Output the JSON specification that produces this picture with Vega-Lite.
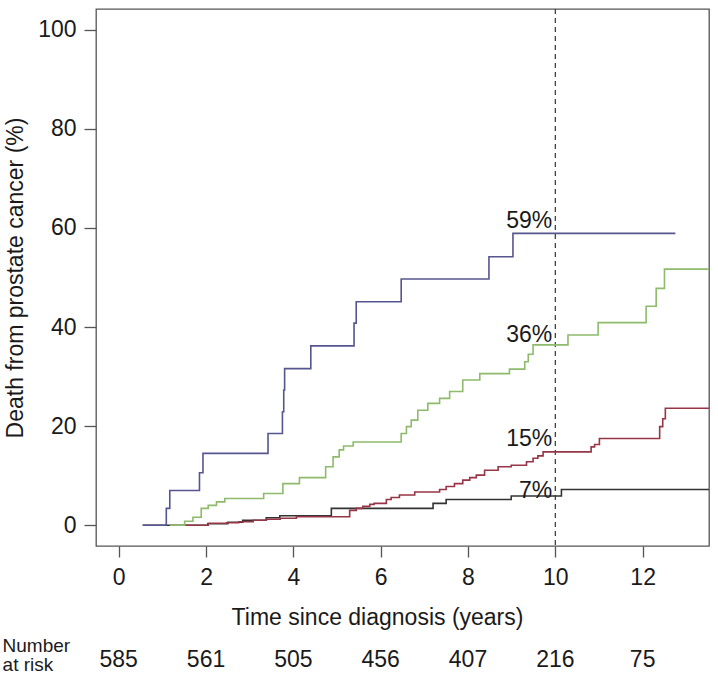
{
  "$schema": "https://vega.github.io/schema/vega-lite/v6.json",
  "width": 613,
  "height": 537,
  "autosize": {"type": "none"},
  "padding": {"left": 96, "top": 9, "right": 9, "bottom": 128},
  "background": "white",
  "config": {
    "font": "Liberation Sans",
    "view": {"stroke": "#555", "strokeWidth": 1.3},
    "axis": {"grid": false, "domain": false, "tickColor": "#555", "tickWidth": 1.3, "labelColor": "#1a1a1a", "titleColor": "#1a1a1a", "labelFontSize": 23, "titleFontSize": 23, "titleFontWeight": "normal", "labelFont": "Liberation Sans", "titleFont": "Liberation Sans"}
  },
  "datasets": {
    "curves": [
      {"g": "Group 1", "t": 0.55, "p": 0},
      {"g": "Group 1", "t": 2.04, "p": 0.3},
      {"g": "Group 1", "t": 2.5, "p": 0.6},
      {"g": "Group 1", "t": 2.84, "p": 1.0},
      {"g": "Group 1", "t": 3.38, "p": 1.5},
      {"g": "Group 1", "t": 3.69, "p": 1.9},
      {"g": "Group 1", "t": 4.87, "p": 3.4},
      {"g": "Group 1", "t": 7.2, "p": 4.4},
      {"g": "Group 1", "t": 7.5, "p": 5.2},
      {"g": "Group 1", "t": 8.99, "p": 5.9},
      {"g": "Group 1", "t": 10.14, "p": 7.2},
      {"g": "Group 1", "t": 13.6, "p": 7.2},

      {"g": "Group 2", "t": 1.51, "p": 0},
      {"g": "Group 2", "t": 2.05, "p": 0.4},
      {"g": "Group 2", "t": 2.47, "p": 0.5},
      {"g": "Group 2", "t": 2.75, "p": 0.7},
      {"g": "Group 2", "t": 3.08, "p": 1.0},
      {"g": "Group 2", "t": 3.38, "p": 1.2},
      {"g": "Group 2", "t": 3.7, "p": 1.4},
      {"g": "Group 2", "t": 4.07, "p": 1.7},
      {"g": "Group 2", "t": 5.29, "p": 3.0},
      {"g": "Group 2", "t": 5.44, "p": 3.4},
      {"g": "Group 2", "t": 5.59, "p": 3.8},
      {"g": "Group 2", "t": 5.75, "p": 4.2},
      {"g": "Group 2", "t": 5.85, "p": 4.4},
      {"g": "Group 2", "t": 6.13, "p": 5.2},
      {"g": "Group 2", "t": 6.24, "p": 5.6},
      {"g": "Group 2", "t": 6.43, "p": 6.1},
      {"g": "Group 2", "t": 6.78, "p": 6.7},
      {"g": "Group 2", "t": 7.35, "p": 7.2},
      {"g": "Group 2", "t": 7.5, "p": 7.8},
      {"g": "Group 2", "t": 7.69, "p": 8.4},
      {"g": "Group 2", "t": 7.88, "p": 9.1},
      {"g": "Group 2", "t": 8.04, "p": 9.6},
      {"g": "Group 2", "t": 8.19, "p": 10.1},
      {"g": "Group 2", "t": 8.38, "p": 11.1},
      {"g": "Group 2", "t": 8.69, "p": 11.8},
      {"g": "Group 2", "t": 8.99, "p": 12.1},
      {"g": "Group 2", "t": 9.34, "p": 12.8},
      {"g": "Group 2", "t": 9.49, "p": 13.5},
      {"g": "Group 2", "t": 9.6, "p": 14.0},
      {"g": "Group 2", "t": 9.72, "p": 14.8},
      {"g": "Group 2", "t": 10.82, "p": 15.8},
      {"g": "Group 2", "t": 10.9, "p": 16.3},
      {"g": "Group 2", "t": 11.01, "p": 17.5},
      {"g": "Group 2", "t": 12.39, "p": 19.9},
      {"g": "Group 2", "t": 12.46, "p": 21.5},
      {"g": "Group 2", "t": 12.52, "p": 23.6},
      {"g": "Group 2", "t": 13.6, "p": 23.6},

      {"g": "Group 3", "t": 1.17, "p": 0},
      {"g": "Group 3", "t": 1.51, "p": 0.8},
      {"g": "Group 3", "t": 1.7, "p": 1.6},
      {"g": "Group 3", "t": 1.89, "p": 3.4},
      {"g": "Group 3", "t": 2.05, "p": 4.0},
      {"g": "Group 3", "t": 2.24, "p": 4.7},
      {"g": "Group 3", "t": 2.43, "p": 5.4},
      {"g": "Group 3", "t": 3.32, "p": 6.4},
      {"g": "Group 3", "t": 3.76, "p": 8.4},
      {"g": "Group 3", "t": 4.14, "p": 9.6},
      {"g": "Group 3", "t": 4.74, "p": 11.8},
      {"g": "Group 3", "t": 4.91, "p": 13.8},
      {"g": "Group 3", "t": 5.05, "p": 15.2},
      {"g": "Group 3", "t": 5.15, "p": 16.0},
      {"g": "Group 3", "t": 5.37, "p": 16.8},
      {"g": "Group 3", "t": 6.47, "p": 18.5},
      {"g": "Group 3", "t": 6.59, "p": 19.9},
      {"g": "Group 3", "t": 6.7, "p": 21.2},
      {"g": "Group 3", "t": 6.85, "p": 23.2},
      {"g": "Group 3", "t": 7.08, "p": 24.6},
      {"g": "Group 3", "t": 7.35, "p": 25.6},
      {"g": "Group 3", "t": 7.58, "p": 27.0},
      {"g": "Group 3", "t": 7.88, "p": 29.3},
      {"g": "Group 3", "t": 8.27, "p": 30.6},
      {"g": "Group 3", "t": 8.95, "p": 31.5},
      {"g": "Group 3", "t": 9.3, "p": 33.0},
      {"g": "Group 3", "t": 9.38, "p": 34.5},
      {"g": "Group 3", "t": 9.49, "p": 36.4},
      {"g": "Group 3", "t": 10.29, "p": 38.4},
      {"g": "Group 3", "t": 10.98, "p": 40.9},
      {"g": "Group 3", "t": 12.08, "p": 44.2},
      {"g": "Group 3", "t": 12.31, "p": 47.8},
      {"g": "Group 3", "t": 12.5, "p": 51.7},
      {"g": "Group 3", "t": 13.6, "p": 51.7},

      {"g": "Group 4", "t": 0.55, "p": 0},
      {"g": "Group 4", "t": 1.09, "p": 3.4},
      {"g": "Group 4", "t": 1.17, "p": 7.0},
      {"g": "Group 4", "t": 1.85, "p": 10.6},
      {"g": "Group 4", "t": 1.93, "p": 14.5},
      {"g": "Group 4", "t": 3.42, "p": 18.5},
      {"g": "Group 4", "t": 3.75, "p": 22.9},
      {"g": "Group 4", "t": 3.78, "p": 27.3},
      {"g": "Group 4", "t": 3.8, "p": 31.6},
      {"g": "Group 4", "t": 4.4, "p": 36.2},
      {"g": "Group 4", "t": 5.39, "p": 40.8},
      {"g": "Group 4", "t": 5.44, "p": 45.1},
      {"g": "Group 4", "t": 6.47, "p": 49.7},
      {"g": "Group 4", "t": 8.48, "p": 54.2},
      {"g": "Group 4", "t": 9.03, "p": 58.9},
      {"g": "Group 4", "t": 12.75, "p": 58.9}
    ],
    "pctlabels": [
      {"g": "Group 4", "label": "59%", "t": 10, "p": 59},
      {"g": "Group 3", "label": "36%", "t": 10, "p": 36},
      {"g": "Group 2", "label": "15%", "t": 10, "p": 15},
      {"g": "Group 1", "label": "7%", "t": 10, "p": 7}
    ],
    "risk": [
      {"t": 0, "n": 585},
      {"t": 2, "n": 561},
      {"t": 4, "n": 505},
      {"t": 6, "n": 456},
      {"t": 8, "n": 407},
      {"t": 10, "n": 216},
      {"t": 12, "n": 75}
    ],
    "risklabel": [{"label": "Number\nat risk"}],
    "ref": [{"t": 10}]
  },
  "layer": [
    {
      "data": {"name": "ref"},
      "mark": {"type": "rule", "strokeDash": [5, 4], "color": "#333", "strokeWidth": 1.2},
      "encoding": {
        "x": {"field": "t", "type": "quantitative", "scale": {"domain": [-0.52, 13.52], "nice": false, "zero": false},
          "axis": {"values": [0, 2, 4, 6, 8, 10, 12], "tickSize": 11, "labelPadding": 9, "title": "Time since diagnosis (years)", "titleX": 281, "titleY": 71, "titleBaseline": "middle", "titleAlign": "center"}}
      }
    },
    {
      "data": {"name": "curves"},
      "mark": {"type": "line", "interpolate": "step-after", "strokeWidth": 1.6, "clip": true},
      "encoding": {
        "x": {"field": "t", "type": "quantitative", "scale": {"domain": [-0.52, 13.52], "nice": false, "zero": false}, "title": "Time since diagnosis (years)"},
        "y": {"field": "p", "type": "quantitative", "scale": {"domain": [-4.2, 104.2], "nice": false, "zero": false},
          "axis": {"values": [0, 20, 40, 60, 80, 100], "tickSize": 12, "labelPadding": 8, "title": "Death from prostate cancer (%)", "titleX": -81, "titleY": 268.5, "titleAngle": -90, "titleBaseline": "middle", "titleAlign": "center"}},
        "color": {"field": "g", "type": "nominal", "legend": null,
          "scale": {"domain": ["Group 1", "Group 2", "Group 3", "Group 4"], "range": ["#333333", "#963545", "#8dbb6b", "#55558f"]}}
      }
    },
    {
      "data": {"name": "pctlabels"},
      "transform": [{"filter": "datum.label !== '7%'"}],
      "mark": {"type": "text", "align": "right", "baseline": "alphabetic", "dx": -3, "dy": -5, "fontSize": 23, "color": "#1a1a1a"},
      "encoding": {
        "x": {"field": "t", "type": "quantitative", "scale": {"domain": [-0.52, 13.52], "nice": false, "zero": false}, "title": "Time since diagnosis (years)"},
        "y": {"field": "p", "type": "quantitative", "scale": {"domain": [-4.2, 104.2], "nice": false, "zero": false}, "title": "Death from prostate cancer (%)"},
        "text": {"field": "label"}
      }
    },
    {
      "data": {"name": "pctlabels"},
      "transform": [{"filter": "datum.label === '7%'"}],
      "mark": {"type": "text", "align": "right", "baseline": "alphabetic", "dx": -3, "dy": 7, "fontSize": 23, "color": "#1a1a1a"},
      "encoding": {
        "x": {"field": "t", "type": "quantitative", "scale": {"domain": [-0.52, 13.52], "nice": false, "zero": false}, "title": "Time since diagnosis (years)"},
        "y": {"field": "p", "type": "quantitative", "scale": {"domain": [-4.2, 104.2], "nice": false, "zero": false}, "title": "Death from prostate cancer (%)"},
        "text": {"field": "label"}
      }
    },
    {
      "data": {"name": "risk"},
      "mark": {"type": "text", "align": "center", "baseline": "middle", "fontSize": 23, "color": "#1a1a1a"},
      "encoding": {
        "x": {"field": "t", "type": "quantitative", "scale": {"domain": [-0.52, 13.52], "nice": false, "zero": false}, "title": "Time since diagnosis (years)"},
        "y": {"datum": -27.3, "type": "quantitative", "scale": {"domain": [-4.2, 104.2], "nice": false, "zero": false}},
        "text": {"field": "n"}
      }
    },
    {
      "data": {"name": "risklabel"},
      "mark": {"type": "text", "align": "left", "baseline": "middle", "fontSize": 19, "lineHeight": 19, "lineBreak": "\n", "color": "#1a1a1a"},
      "encoding": {
        "x": {"datum": -2.66, "type": "quantitative", "scale": {"domain": [-0.52, 13.52], "nice": false, "zero": false}},
        "y": {"datum": -24.3, "type": "quantitative", "scale": {"domain": [-4.2, 104.2], "nice": false, "zero": false}},
        "text": {"field": "label"}
      }
    }
  ]
}
